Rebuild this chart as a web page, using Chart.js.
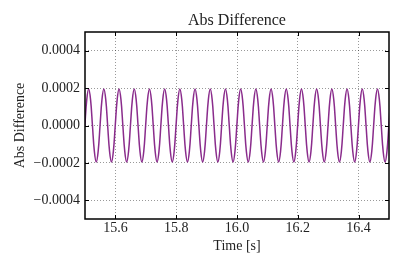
<!DOCTYPE html>
<html><head><meta charset="utf-8">
<script src="https://cdn.jsdelivr.net/npm/chart.js@4/dist/chart.umd.min.js"></script>
<style>html,body{margin:0;padding:0;background:#fff;}#c{display:block;}</style>
</head><body>
<canvas id="c" width="405" height="270"></canvas>
<script>
const timeS = [
15.4995,15.5058,15.5120,15.5183,15.5245,15.5308,15.5370,15.5433,
15.5495,15.5558,15.5620,15.5683,15.5745,15.5808,15.5870,15.5933,
15.5995,15.6058,15.6120,15.6183,15.6245,15.6308,15.6370,15.6433,
15.6495,15.6558,15.6620,15.6683,15.6745,15.6808,15.6870,15.6933,
15.6995,15.7058,15.7120,15.7183,15.7245,15.7308,15.7370,15.7433,
15.7495,15.7558,15.7620,15.7683,15.7745,15.7808,15.7870,15.7933,
15.7995,15.8058,15.8120,15.8183,15.8245,15.8308,15.8370,15.8433,
15.8495,15.8558,15.8620,15.8683,15.8745,15.8808,15.8870,15.8933,
15.8995,15.9058,15.9120,15.9183,15.9245,15.9308,15.9370,15.9433,
15.9495,15.9558,15.9620,15.9683,15.9745,15.9808,15.9870,15.9933,
15.9995,16.0058,16.0120,16.0183,16.0245,16.0308,16.0370,16.0433,
16.0495,16.0558,16.0620,16.0683,16.0745,16.0808,16.0870,16.0933,
16.0995,16.1058,16.1120,16.1183,16.1245,16.1308,16.1370,16.1433,
16.1495,16.1558,16.1620,16.1683,16.1745,16.1808,16.1870,16.1933,
16.1995,16.2058,16.2120,16.2183,16.2245,16.2308,16.2370,16.2433,
16.2495,16.2558,16.2620,16.2683,16.2745,16.2808,16.2870,16.2933,
16.2995,16.3058,16.3120,16.3183,16.3245,16.3308,16.3370,16.3433,
16.3495,16.3558,16.3620,16.3683,16.3745,16.3808,16.3870,16.3933,
16.3995,16.4058,16.4120,16.4183,16.4245,16.4308,16.4370,16.4433,
16.4495,16.4558,16.4620,16.4683,16.4745,16.4808,16.4870,16.4933,
16.4995,16.5058,16.5120
];
const absDiff = [
0,0.000138,0.000195,0.000138,0,-0.000138,-0.000195,-0.000138,
0,0.000138,0.000195,0.000138,0,-0.000138,-0.000195,-0.000138,
0,0.000138,0.000195,0.000138,0,-0.000138,-0.000195,-0.000138,
0,0.000138,0.000195,0.000138,0,-0.000138,-0.000195,-0.000138,
0,0.000138,0.000195,0.000138,0,-0.000138,-0.000195,-0.000138,
0,0.000138,0.000195,0.000138,0,-0.000138,-0.000195,-0.000138,
0,0.000138,0.000195,0.000138,0,-0.000138,-0.000195,-0.000138,
0,0.000138,0.000195,0.000138,0,-0.000138,-0.000195,-0.000138,
0,0.000138,0.000195,0.000138,0,-0.000138,-0.000195,-0.000138,
0,0.000138,0.000195,0.000138,0,-0.000138,-0.000195,-0.000138,
0,0.000138,0.000195,0.000138,0,-0.000138,-0.000195,-0.000138,
0,0.000138,0.000195,0.000138,0,-0.000138,-0.000195,-0.000138,
0,0.000138,0.000195,0.000138,0,-0.000138,-0.000195,-0.000138,
0,0.000138,0.000195,0.000138,0,-0.000138,-0.000195,-0.000138,
0,0.000138,0.000195,0.000138,0,-0.000138,-0.000195,-0.000138,
0,0.000138,0.000195,0.000138,0,-0.000138,-0.000195,-0.000138,
0,0.000138,0.000195,0.000138,0,-0.000138,-0.000195,-0.000138,
0,0.000138,0.000195,0.000138,0,-0.000138,-0.000195,-0.000138,
0,0.000138,0.000195,0.000138,0,-0.000138,-0.000195,-0.000138,
0,0.000138,0.000195,0.000138,0,-0.000138,-0.000195,-0.000138,
0,0.000138,0.000195
];
const xTickValues = [15.6, 15.8, 16.0, 16.2, 16.4];
const xTickLabels = ['15.6', '15.8', '16.0', '16.2', '16.4'];
const yTickValues = [-0.0004, -0.0002, 0, 0.0002, 0.0004];
const yTickLabels = ['\u22120.0004', '\u22120.0002', '0.0000', '0.0002', '0.0004'];

const FONT = "'Liberation Serif', 'DejaVu Serif', serif";
const TEXT = '#222222';

function labelFor(values, labels, v) {
  for (let i = 0; i < values.length; i++) if (Math.abs(values[i] - v) < 1e-9) return labels[i];
  return '';
}

const framePlugin = {
  id: 'frame',
  afterDatasetsDraw(chart) {
    const {ctx, chartArea: a, scales: {x, y}} = chart;
    ctx.save();
    ctx.strokeStyle = '#000';
    ctx.lineWidth = 1;
    ctx.beginPath();
    xTickValues.forEach(v => {
      const px = Math.round(x.getPixelForValue(v)) + 0.5;
      ctx.moveTo(px, a.bottom); ctx.lineTo(px, a.bottom - 4);
      ctx.moveTo(px, a.top); ctx.lineTo(px, a.top + 4);
    });
    yTickValues.forEach(v => {
      const py = Math.round(y.getPixelForValue(v)) + 0.5;
      ctx.moveTo(a.left, py); ctx.lineTo(a.left + 4, py);
      ctx.moveTo(a.right, py); ctx.lineTo(a.right - 4, py);
    });
    ctx.stroke();
    ctx.lineWidth = 1.5;
    ctx.strokeRect(a.left, a.top, a.right - a.left, a.bottom - a.top);
    ctx.restore();
  }
};

new Chart(document.getElementById('c'), {
  type: 'line',
  data: {
    datasets: [{
      data: timeS.map((t, i) => ({x: t, y: absDiff[i]})),
      borderColor: '#8a2c8c',
      borderWidth: 1.5,
      pointRadius: 0,
      tension: 0.4,
      fill: false,
      clip: 0
    }]
  },
  options: {
    responsive: false,
    animation: false,
    devicePixelRatio: 1,
    layout: {padding: {left: 0, right: 16, top: 0, bottom: 0}},
    plugins: {
      legend: {display: false},
      tooltip: {enabled: false},
      title: {
        display: true, text: 'Abs Difference', fullSize: false, color: TEXT,
        font: {family: FONT, size: 16, weight: 'normal'},
        padding: {top: 11, bottom: 1.8}
      }
    },
    scales: {
      x: {
        type: 'linear', min: 15.5, max: 16.5,
        afterBuildTicks: s => { s.ticks = xTickValues.map(v => ({value: v})); },
        afterFit: s => { s.height = 51; },
        ticks: {
          color: TEXT, padding: 1, maxRotation: 0,
          font: {family: FONT, size: 14},
          callback: v => labelFor(xTickValues, xTickLabels, v)
        },
        grid: {color: 'rgba(0,0,0,0.4)', lineWidth: 1, drawTicks: false},
        border: {display: false, dash: [1, 2]},
        title: {display: true, text: 'Time [s]', color: TEXT, font: {family: FONT, size: 14}, padding: {top: 2, bottom: 15}}
      },
      y: {
        type: 'linear', min: -0.0005, max: 0.0005,
        afterBuildTicks: s => { s.ticks = yTickValues.map(v => ({value: v})); },
        afterFit: s => { s.width = 85; },
        ticks: {
          color: TEXT, padding: 5,
          font: {family: FONT, size: 14},
          callback: v => labelFor(yTickValues, yTickLabels, v)
        },
        grid: {color: 'rgba(0,0,0,0.4)', lineWidth: 1, drawTicks: false},
        border: {display: false, dash: [1, 2]},
        title: {display: true, text: 'Abs Difference', color: TEXT, font: {family: FONT, size: 14}, padding: {top: 11.6, bottom: 0}}
      }
    }
  },
  plugins: [framePlugin]
});
</script>
</body></html>
